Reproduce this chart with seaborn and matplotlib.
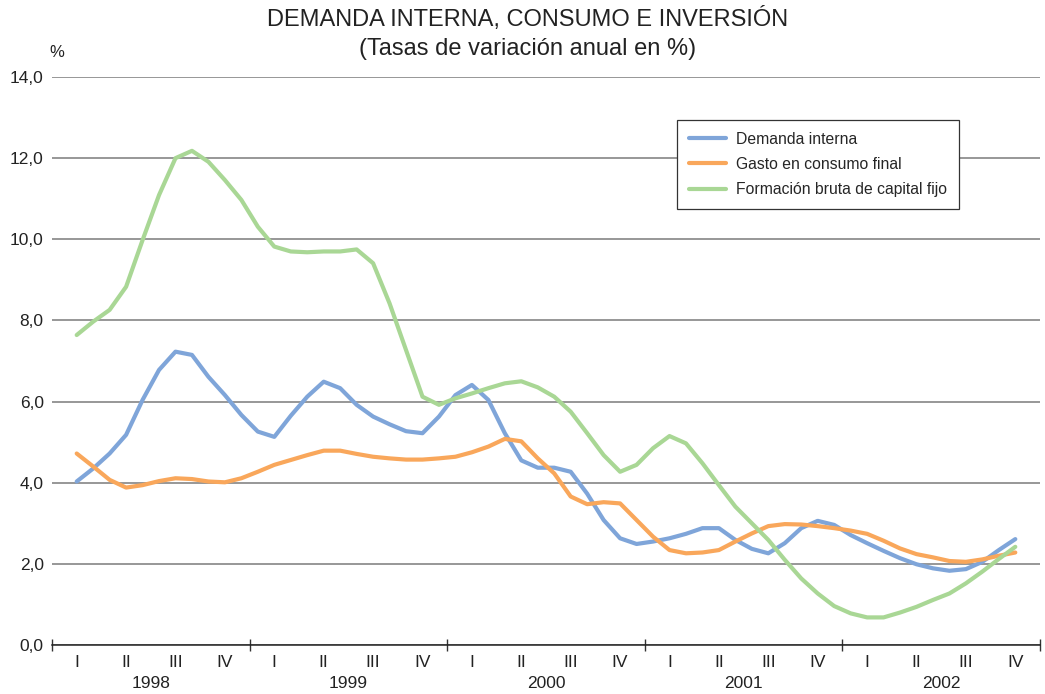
import numpy as np
import pandas as pd
import matplotlib
matplotlib.use("Agg")
import matplotlib.pyplot as plt
import matplotlib.transforms as mtransforms
from matplotlib.lines import Line2D
import seaborn as sns

# values, about one point per month (3 per quarter),
# first point = 1998 I, last point = 2002 IV
demanda = [4.03, 4.35, 4.72, 5.18, 6.04, 6.78, 7.23, 7.15, 6.61, 6.16, 5.67, 5.26, 5.13,
           5.65, 6.12, 6.49, 6.33, 5.92, 5.63, 5.44, 5.27, 5.22, 5.63, 6.16, 6.41, 6.04,
           5.22, 4.55, 4.37, 4.37, 4.27, 3.73, 3.08, 2.63, 2.49, 2.55, 2.63, 2.74, 2.88,
           2.88, 2.59, 2.37, 2.26, 2.51, 2.88, 3.06, 2.96, 2.71, 2.51, 2.32, 2.14, 1.99,
           1.89, 1.83, 1.87, 2.05, 2.34, 2.61]
consumo = [4.72, 4.40, 4.07, 3.88, 3.94, 4.04, 4.11, 4.09, 4.03, 4.01, 4.11, 4.27, 4.44,
           4.56, 4.68, 4.79, 4.79, 4.71, 4.64, 4.60, 4.57, 4.57, 4.60, 4.64, 4.75, 4.89,
           5.08, 5.02, 4.60, 4.23, 3.66, 3.47, 3.52, 3.49, 3.08, 2.67, 2.34, 2.26, 2.28,
           2.34, 2.55, 2.75, 2.93, 2.98, 2.97, 2.93, 2.88, 2.82, 2.74, 2.57, 2.38, 2.24,
           2.16, 2.07, 2.05, 2.11, 2.20, 2.28]
inversion = [7.64, 7.97, 8.26, 8.83, 9.98, 11.09, 12.00, 12.18, 11.91, 11.46, 10.97, 10.31,
             9.82, 9.70, 9.68, 9.70, 9.70, 9.75, 9.41, 8.42, 7.27, 6.12, 5.92, 6.08, 6.20,
             6.33, 6.45, 6.50, 6.35, 6.12, 5.75, 5.22, 4.68, 4.27, 4.44, 4.85, 5.15, 4.97,
             4.48, 3.94, 3.41, 3.00, 2.59, 2.10, 1.64, 1.27, 0.96, 0.78, 0.68, 0.68, 0.80,
             0.94, 1.11, 1.27, 1.52, 1.81, 2.12, 2.42]

series_names = ["Demanda interna", "Gasto en consumo final", "Formación bruta de capital fijo"]
colors = ["#7FA5D9", "#F9A75B", "#A9D795"]
years = ["1998", "1999", "2000", "2001", "2002"]
quarters = ["I", "II", "III", "IV"]

n = len(demanda)
t = np.arange(n) / 3.0  # position in quarters
df = pd.DataFrame({"t": t,
                   series_names[0]: demanda,
                   series_names[1]: consumo,
                   series_names[2]: inversion})
long_df = df.melt(id_vars="t", var_name="serie", value_name="valor")

sns.set_style("white")
plt.rcParams["font.family"] = ["Liberation Sans", "DejaVu Sans"]

fig = plt.figure(figsize=(10.45, 6.94), dpi=100)
ax = fig.add_axes([52 / 1045, 49 / 694, 988 / 1045, 568 / 694])

sns.lineplot(data=long_df, x="t", y="valor", hue="serie", hue_order=series_names,
             palette=colors, linewidth=3, legend=False, ax=ax, zorder=3)

ax.set_xlim(-0.5, len(years) * 4 - 0.5)
ax.set_ylim(0, 14)
ax.set_xlabel("")
ax.set_ylabel("")

# y axis
yt = np.arange(0, 15, 2)
ax.set_yticks(yt)
ax.set_yticklabels([f"{v:.1f}".replace(".", ",") for v in yt], fontsize=12.5, color="#222222")
ax.yaxis.grid(True, color="#7a7a7a", linewidth=1.1)
ax.tick_params(axis="y", length=0, pad=6)

# x axis: quarter labels at centres, small ticks at boundaries
nq = len(years) * 4
ax.set_xticks(np.arange(nq))
ax.set_xticklabels(quarters * len(years), fontsize=12.5, color="#222222")
ax.set_xticks(np.arange(nq + 1) - 0.5, minor=True)
ax.tick_params(axis="x", which="major", length=0, pad=7)
ax.tick_params(axis="x", which="minor", length=5, width=1, color="#333333", direction="out")

for s in ["left", "right", "top"]:
    ax.spines[s].set_visible(False)
ax.spines["bottom"].set_color("#222222")
ax.spines["bottom"].set_linewidth(1.1)

trans = mtransforms.blended_transform_factory(ax.transData, ax.transAxes)
for i in range(len(years) + 1):
    ax.vlines(i * 4 - 0.5, -0.011, 0.011, transform=trans, color="#333333",
              linewidth=1, clip_on=False)
for i, yr in enumerate(years):
    ax.text(i * 4 + 1.5, -0.067, yr, transform=trans, ha="center", va="center",
            fontsize=12.5, color="#222222")

ax.text(0.005, 1.044, "%", transform=ax.transAxes, ha="center", va="center",
        fontsize=12, color="#222222")

fig.text(0.505, 0.973, "DEMANDA INTERNA, CONSUMO E INVERSIÓN", ha="center", va="center",
         fontsize=17, color="#222222")
fig.text(0.505, 0.930, "(Tasas de variación anual en %)", ha="center", va="center",
         fontsize=17, color="#222222")

handles = [Line2D([0], [0], color=c, linewidth=3) for c in colors]
leg = ax.legend(handles, series_names, loc="upper left",
                bbox_to_anchor=((677 - 52) / 988, (645 - 120) / 568),
                borderaxespad=0, fontsize=11.3, frameon=True, fancybox=False,
                handlelength=2.4, borderpad=0.75, labelspacing=0.65, handletextpad=0.6)
leg.get_frame().set_edgecolor("#333333")
leg.get_frame().set_linewidth(0.9)
leg.get_frame().set_alpha(1)

fig.savefig("out.png", dpi=100)
